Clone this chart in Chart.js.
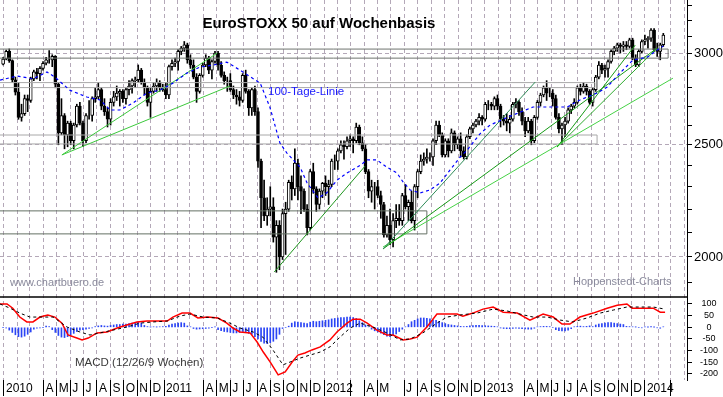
<!DOCTYPE html>
<html>
<head>
<meta charset="utf-8">
<title>EuroSTOXX 50 auf Wochenbasis</title>
<script src="https://cdn.jsdelivr.net/npm/chart.js@4.4.1/dist/chart.umd.min.js"></script>
<style>
  html, body { margin: 0; padding: 0; background: #fff; overflow: hidden; }
  canvas { display: block; }
</style>
</head>
<body>
<canvas id="myChart" width="723" height="397"></canvas>
<script>
// Month labels of the time axis, first entry = Jan 2010 ('|' = separator without text)
const monthLabels = [
  '2010', '', '', 'A', 'M', 'J', 'J', 'A', 'S', 'O', 'N', 'D',
  '2011', '', '', 'A', 'M', 'J', 'J', 'A', 'S', 'O', 'N', 'D',
  '2012', '', '|', 'A', 'M', '', 'J', 'A', 'S', 'O', 'N', 'D',
  '2013', '', '', 'A', 'M', 'J', 'J', 'A', 'S', 'O', 'N', 'D',
  '2014', '', '|', ''
];

// Weekly candles, first week = week of 28 Dec 2009
const wkOpen = [
  2935, 2965, 3010, 2955, 2845, 2776, 2640, 2660, 2740, 2730,
  2850, 2890, 2880, 2910, 2940, 2960, 2960, 2980, 2820, 2560,
  2650, 2550, 2610, 2520, 2600, 2700, 2610, 2520, 2650, 2650,
  2740, 2750, 2790, 2700, 2670, 2630, 2720, 2750, 2770, 2780,
  2740, 2790, 2810, 2840, 2845, 2900, 2830, 2800, 2720, 2780,
  2810, 2830, 2800, 2790, 2760, 2920, 2940, 2950, 3010, 3030,
  3050, 2960, 2930, 2860, 2780, 2870, 2930, 2970, 2900, 2950,
  3000, 2930, 2870, 2840, 2840, 2790, 2760, 2750, 2730, 2870,
  2780, 2690, 2790, 2670, 2420, 2250, 2170, 2200, 2210, 2080,
  2130, 2000, 2180, 2200, 2320, 2290, 2410, 2300, 2280, 2200,
  2120, 2370, 2290, 2220, 2280, 2316, 2300, 2310, 2420, 2420,
  2470, 2500, 2490, 2520, 2530, 2520, 2590, 2510, 2480, 2370,
  2280, 2300, 2300, 2260, 2220, 2090, 2130, 2070, 2150, 2160,
  2150, 2260, 2210, 2230, 2150, 2300, 2370, 2420, 2430, 2440,
  2440, 2520, 2600, 2550, 2450, 2520, 2470, 2560, 2500, 2530,
  2470, 2440, 2540, 2580, 2600, 2620, 2640, 2630, 2710, 2710,
  2700, 2740, 2700, 2630, 2620, 2610, 2630, 2710, 2720, 2670,
  2620, 2570, 2620, 2520, 2640, 2720, 2760, 2800, 2770, 2770,
  2740, 2640, 2580, 2600, 2620, 2680, 2700, 2720, 2800, 2780,
  2810, 2780, 2720, 2790, 2860, 2930, 2900, 2910, 2950, 3010,
  3030, 3050, 3040, 3050, 3040, 3080, 2970, 2930, 3010, 3070,
  3080, 3090, 3140, 3020, 3010, 3050
];
const wkHigh = [
  2975, 3018, 3025, 2960, 2860, 2830, 2710, 2760, 2760, 2860,
  2900, 2910, 2920, 2950, 2975, 3015, 2990, 2985, 2830, 2740,
  2660, 2620, 2620, 2610, 2710, 2720, 2620, 2660, 2730, 2750,
  2800, 2830, 2800, 2740, 2690, 2740, 2780, 2810, 2790, 2790,
  2800, 2840, 2850, 2860, 2930, 2910, 2850, 2810, 2800, 2830,
  2850, 2840, 2820, 2830, 2930, 2960, 2970, 3020, 3040, 3070,
  3060, 2990, 2960, 2880, 2880, 2940, 2990, 2980, 2960, 3010,
  3010, 2950, 2890, 2860, 2880, 2810, 2790, 2780, 2880, 2900,
  2790, 2800, 2810, 2690, 2430, 2330, 2250, 2300, 2250, 2150,
  2150, 2200, 2230, 2330, 2350, 2480, 2430, 2350, 2290, 2220,
  2380, 2410, 2300, 2290, 2320, 2350, 2330, 2430, 2450, 2480,
  2520, 2520, 2540, 2550, 2540, 2610, 2600, 2540, 2500, 2380,
  2330, 2320, 2330, 2280, 2230, 2170, 2200, 2180, 2220, 2220,
  2270, 2310, 2240, 2280, 2310, 2380, 2450, 2460, 2480, 2460,
  2530, 2620, 2620, 2560, 2530, 2530, 2580, 2570, 2540, 2560,
  2490, 2550, 2590, 2610, 2630, 2660, 2650, 2720, 2730, 2720,
  2750, 2760, 2710, 2650, 2660, 2650, 2720, 2740, 2730, 2690,
  2640, 2640, 2630, 2650, 2730, 2770, 2810, 2840, 2800, 2790,
  2760, 2660, 2610, 2640, 2690, 2710, 2740, 2810, 2820, 2830,
  2820, 2790, 2800, 2870, 2950, 2940, 2930, 2960, 3020, 3040,
  3060, 3060, 3070, 3070, 3090, 3090, 2990, 3020, 3080, 3110,
  3100, 3150, 3150, 3060, 3060, 3120
];
const wkLow = [
  2930, 2960, 2945, 2830, 2760, 2630, 2620, 2650, 2670, 2720,
  2840, 2850, 2840, 2900, 2930, 2940, 2920, 2800, 2500, 2550,
  2480, 2490, 2500, 2480, 2590, 2600, 2490, 2510, 2630, 2620,
  2720, 2740, 2680, 2650, 2590, 2600, 2700, 2730, 2700, 2720,
  2710, 2760, 2770, 2800, 2830, 2820, 2760, 2700, 2640, 2770,
  2780, 2780, 2780, 2740, 2740, 2900, 2920, 2900, 2990, 3010,
  2940, 2910, 2850, 2720, 2770, 2860, 2920, 2880, 2850, 2940,
  2900, 2860, 2820, 2780, 2780, 2740, 2710, 2700, 2720, 2770,
  2650, 2650, 2650, 2390, 2120, 2150, 2130, 2170, 2060, 1940,
  1950, 1990, 2010, 2190, 2240, 2260, 2240, 2180, 2190, 2090,
  2110, 2270, 2190, 2200, 2250, 2260, 2220, 2300, 2380, 2380,
  2460, 2430, 2480, 2490, 2460, 2510, 2500, 2470, 2360, 2250,
  2230, 2200, 2250, 2160, 2080, 2080, 2050, 2040, 2120, 2130,
  2130, 2200, 2150, 2140, 2110, 2250, 2360, 2400, 2410, 2420,
  2400, 2500, 2540, 2440, 2440, 2440, 2460, 2470, 2480, 2440,
  2430, 2430, 2530, 2560, 2590, 2600, 2600, 2620, 2680, 2680,
  2680, 2680, 2590, 2600, 2570, 2560, 2620, 2690, 2650, 2600,
  2540, 2560, 2500, 2510, 2630, 2700, 2750, 2730, 2750, 2700,
  2630, 2560, 2500, 2540, 2610, 2660, 2690, 2710, 2760, 2770,
  2760, 2710, 2700, 2780, 2850, 2880, 2860, 2860, 2940, 2990,
  3010, 3000, 3010, 3020, 3030, 2960, 2920, 2920, 3000, 3050,
  3030, 3070, 3010, 2980, 2960, 3040
];
const wkClose = [
  2965, 3010, 2955, 2845, 2776, 2640, 2660, 2740, 2730, 2850,
  2890, 2880, 2910, 2940, 2960, 2960, 2980, 2820, 2560, 2650,
  2550, 2610, 2520, 2600, 2700, 2610, 2520, 2650, 2650, 2740,
  2750, 2790, 2700, 2670, 2630, 2720, 2750, 2770, 2780, 2740,
  2790, 2810, 2840, 2845, 2900, 2830, 2800, 2720, 2780, 2810,
  2830, 2800, 2790, 2760, 2920, 2940, 2950, 3010, 3030, 3050,
  2960, 2930, 2860, 2780, 2870, 2930, 2970, 2900, 2950, 3000,
  2930, 2870, 2840, 2840, 2790, 2760, 2750, 2730, 2870, 2780,
  2690, 2790, 2670, 2420, 2250, 2170, 2200, 2210, 2080, 2130,
  2000, 2180, 2200, 2320, 2290, 2410, 2300, 2280, 2200, 2120,
  2370, 2290, 2220, 2280, 2316, 2300, 2310, 2420, 2420, 2470,
  2500, 2490, 2520, 2530, 2520, 2590, 2510, 2480, 2370, 2280,
  2300, 2300, 2260, 2220, 2090, 2130, 2070, 2150, 2160, 2150,
  2260, 2210, 2230, 2150, 2300, 2370, 2420, 2430, 2440, 2440,
  2520, 2600, 2550, 2450, 2520, 2470, 2560, 2500, 2530, 2470,
  2440, 2540, 2580, 2600, 2620, 2640, 2630, 2710, 2710, 2700,
  2740, 2700, 2630, 2620, 2610, 2630, 2710, 2720, 2670, 2620,
  2570, 2620, 2520, 2640, 2720, 2760, 2800, 2770, 2770, 2740,
  2640, 2580, 2600, 2620, 2680, 2700, 2720, 2800, 2780, 2810,
  2780, 2720, 2790, 2860, 2930, 2900, 2910, 2950, 3010, 3030,
  3050, 3040, 3050, 3040, 3080, 2970, 2930, 3010, 3070, 3080,
  3090, 3140, 3020, 3010, 3050, 3110
];

// MACD histogram, one bar per week
const macdHist = [
  0, -3, -12, -22, -32, -40, -42, -38, -30, -20,
  -8, -4, -3, 0, 5, 3, -10, -22, -35, -42,
  -44, -40, -34, -26, -18, -12, -10, -8, -5, -3,
  3, 6, 8, 6, 5, 8, 10, 12, 12, 14,
  14, 16, 18, 20, 22, 18, 8, 3, 1, 2,
  1, 2, 3, 4, 10, 14, 16, 18, 20, 18,
  6, 2, -5, -8, -7, -6, -5, -4, 0, 2,
  -10, -14, -18, -20, -22, -24, -24, -22, -18, -22,
  -26, -30, -40, -50, -60, -68, -70, -66, -60, -50,
  -30, -5, 0, 5, 18, 24, 22, 20, 18, 16,
  22, 26, 24, 26, 28, 30, 32, 36, 38, 40,
  42, 42, 44, 44, 42, 38, 28, 20, 10, 2,
  -8, -15, -20, -25, -32, -38, -40, -36, -28, -18,
  -8, 2, 12, 24, 30, 36, 40, 40, 38, 36,
  32, 30, 26, 20, 16, 12, 10, 8, 6, 4,
  3, 4, 6, 7, 8, 8, 7, 7, 6, 5,
  4, 2, -3, -5, -6, -6, -5, -4, -5, -6,
  -7, -8, -8, -4, 2, 3, 4, 4, 3, 0,
  -10, -14, -16, -15, -12, -6, 2, 4, 5, 3,
  4, 6, 3, 10, 14, 16, 18, 20, 20, 18,
  16, 14, 12, 4, 3, 2, 1, 0, -2, 2,
  1, 3, 1, -2, -4, 2
];

// MACD line and signal line (x = days since 28 Dec 2009)
const macdDay = [-5, 11, 24, 40, 56, 70, 86, 104, 120, 136, 150, 170, 182, 196, 216, 239, 262, 284, 307, 330,
  353, 376, 389, 410, 428, 446, 469, 492, 512, 526, 542, 565, 581, 595, 611, 629, 645, 661, 674, 690,
  706, 725, 747, 763, 786, 800, 816, 832, 854, 877, 891, 914, 930, 946, 968, 991, 1014, 1037, 1050, 1073,
  1096, 1119, 1142, 1174, 1203, 1233, 1256, 1276, 1294, 1317, 1347, 1379, 1402, 1424, 1436, 1461, 1484, 1500, 1511];
const macdVal = [100, 100, 82, 44, 23, 23, 44, 53, 44, 18, -33, -46, -54, -46, -24, -20, -3, 10, 23, 27,
  27, 27, 44, 61, 61, 40, 44, 40, 18, -3, -20, -24, -63, -106, -149, -204, -191, -149, -119, -110,
  -97, -84, -54, -20, 18, 35, 35, 18, -12, -33, -33, -54, -50, -42, 1, 57, 57, 57, 48, 61,
  78, 87, 65, 61, 31, 57, 44, 14, 14, 44, 61, 82, 95, 100, 82, 82, 82, 65, 65];
const signalDay = [-5, 18, 40, 63, 93, 116, 148, 177, 200, 223, 252, 284, 314, 344, 376, 405, 428, 458, 490, 519,
  542, 572, 594, 617, 640, 656, 679, 702, 725, 747, 770, 793, 816, 845, 877, 907, 930, 959, 991, 1014,
  1044, 1082, 1119, 1151, 1180, 1210, 1242, 1272, 1301, 1333, 1363, 1393, 1424, 1454, 1484, 1511];
const signalVal = [100, 82, 61, 44, 44, 44, 1, -20, -33, -24, -12, 1, 18, 23, 27, 48, 57, 44, 40, 18,
  -3, -20, -42, -97, -161, -149, -132, -119, -106, -84, -42, -3, 18, 1, -24, -54, -50, -24, 18, 44,
  53, 61, 78, 70, 57, 44, 44, 31, 23, 40, 61, 74, 87, 87, 87, 78];

// 100-Tage-Linie
const maDay = [-5, 34, 70, 102, 120, 154, 193, 223, 246, 268, 298, 330, 360, 389, 421, 451, 480, 512, 542, 588,
  610, 633, 649, 679, 695, 720, 740, 763, 786, 816, 832, 854, 877, 900, 914, 930, 953, 975, 998, 1021,
  1044, 1060, 1089, 1112, 1164, 1210, 1256, 1288, 1317, 1356, 1379, 1408, 1438, 1470, 1493, 1507];
const maVal = [2843, 2866, 2850, 2889, 2860, 2787, 2749, 2733, 2679, 2679, 2716, 2771, 2787, 2826, 2883, 2918, 2929, 2947, 2900, 2826,
  2695, 2509, 2459, 2391, 2317, 2249, 2272, 2330, 2363, 2400, 2426, 2426, 2391, 2363, 2321, 2285, 2272, 2285, 2317, 2378,
  2440, 2474, 2555, 2600, 2652, 2695, 2695, 2695, 2733, 2771, 2804, 2883, 2959, 2976, 3018, 3042];

// Trend lines (start / end)
const trendFromDay = [136, 136, 620, 868, 868, 868, 1265, 1265];
const trendFromVal = [2450, 2450, 1941, 2032, 2032, 2040, 2489, 2489];
const trendToDay = [490, 519, 827, 1215, 1493, 1529, 1443, 1493];
const trendToVal = [3000, 2810, 2396, 2832, 3030, 2854, 3048, 3030];

// Support / resistance zones
const zoneLow = [2970, 2801, 2504, 2094];
const zoneHigh = [3024, 2829, 2549, 2192];
const zoneEndDay = [1518, 1351, 1356, 968];

// Axis ticks
const priceTicks = [1900, 2000, 2100, 2200, 2300, 2400, 2500, 2600, 2700, 2800, 2900, 3000, 3100, 3200, 3300];
const macdTicks = [-200, -150, -100, -50, 0, 50, 100];

// styles
const trendColors = ['#3cc83c', '#3cc83c', '#1e961e', '#2e8b57', '#169a16', '#46d246', '#169a16', '#2eaa2e'];
const zoneColors = ['#6e746e', '#a8a8a8', '#a8a8a8', '#647064'];
const gridColor = '#b4a8b8';
const FONT = '"Liberation Sans", Arial, sans-serif';

const DAY0 = Date.UTC(2009, 11, 28);
const monthDays = monthLabels.map((_, i) => (Date.UTC(2010, i, 1) - DAY0) / 86400000);
const weekX = i => 7 * i + 2;

const datasets = [];

// 100-day line
datasets.push({
    type: 'line', yAxisID: 'y', order: 0,
    data: maDay.map((d, i) => ({ x: d, y: maVal[i] })),
    borderColor: '#0000ff', borderWidth: 1.2, borderDash: [3, 3], pointRadius: 0
});

// trend lines
trendFromDay.forEach((d, i) => {
    datasets.push({
        type: 'line', yAxisID: 'y', order: 0,
        data: [{ x: d, y: trendFromVal[i] }, { x: trendToDay[i], y: trendToVal[i] }],
        borderColor: trendColors[i], borderWidth: 1, pointRadius: 0
    });
});

// zones (open on the left, the chart clips them)
zoneLow.forEach((lo, i) => {
    datasets.push({
        type: 'line', yAxisID: 'y', order: 1,
        data: [
            { x: -40, y: lo }, { x: zoneEndDay[i], y: lo },
            { x: zoneEndDay[i], y: zoneHigh[i] }, { x: -40, y: zoneHigh[i] }
        ],
        borderColor: zoneColors[i], borderWidth: 1, pointRadius: 0
    });
});

// candle bodies
datasets.push({
    type: 'bar', yAxisID: 'y', order: 2, grouped: false,
    data: wkOpen.map((o, i) => ({ x: weekX(i), y: [o, wkClose[i]] })),
    backgroundColor: wkOpen.map((o, i) => wkClose[i] >= o ? '#ffffff' : '#000000'),
    borderColor: '#000000', borderWidth: 1, borderSkipped: false, barThickness: 3
});

// wicks
datasets.push({
    type: 'bar', yAxisID: 'y', order: 3, grouped: false,
    data: wkLow.map((l, i) => ({ x: weekX(i), y: [l, wkHigh[i]] })),
    backgroundColor: '#000000', borderWidth: 0, barThickness: 1
});

// MACD histogram
datasets.push({
    type: 'bar', yAxisID: 'y2', order: 4, grouped: false,
    data: macdHist.map((v, i) => ({ x: weekX(i), y: v })),
    backgroundColor: '#2a44f5', borderWidth: 0, barThickness: 1
});

// signal line
datasets.push({
    type: 'line', yAxisID: 'y2', order: 0,
    data: signalDay.map((d, i) => ({ x: d, y: signalVal[i] })),
    borderColor: '#000000', borderWidth: 1, borderDash: [3, 3], pointRadius: 0
});

// MACD line
datasets.push({
    type: 'line', yAxisID: 'y2', order: 0,
    data: macdDay.map((d, i) => ({ x: d, y: macdVal[i] })),
    borderColor: '#ff0000', borderWidth: 1.5, pointRadius: 0
});

// texts drawn on top of the chart
const notes = [
    { text: 'EuroSTOXX 50 auf Wochenbasis', x: 319, y: 24, font: 'bold 15px ' + FONT, color: '#000000', align: 'center' },
    { text: '100-Tage-Linie', x: 268, y: 92, font: '11.5px ' + FONT, color: '#1a1aff', align: 'left' },
    { text: 'www.chartbuero.de', x: 10, y: 283, font: '11px ' + FONT, color: '#8a8a9c', align: 'left' },
    { text: 'Hoppenstedt-Charts', x: 573, y: 282, font: '11px ' + FONT, color: '#8a8a9c', align: 'left' },
    { text: 'MACD (12/26/9 Wochen)', x: 75, y: 363, font: '11.5px ' + FONT, color: '#3a3a3a', align: 'left' }
];

const overlay = {
    id: 'overlay',
    afterDraw(chart) {
        const ctx = chart.ctx;
        const yScale = chart.scales.y;
        ctx.save();
        // divider between price and MACD panel
        ctx.strokeStyle = '#000';
        ctx.lineWidth = 1.5;
        ctx.beginPath();
        ctx.moveTo(0, yScale.bottom);
        ctx.lineTo(yScale.left, yScale.bottom);
        ctx.stroke();
        ctx.textBaseline = 'middle';
        notes.forEach(n => {
            ctx.font = n.font;
            ctx.fillStyle = n.color;
            ctx.textAlign = n.align;
            ctx.fillText(n.text, n.x, n.y);
        });
        ctx.restore();
    }
};

// no extra room around the plot for overflowing tick labels
function noPadding(s) {
    s.paddingTop = 0;
    s.paddingBottom = 0;
    s.paddingLeft = 0;
    s.paddingRight = 0;
}

new Chart(document.getElementById('myChart'), {
    type: 'bar',
    data: { datasets: datasets },
    options: {
        responsive: false,
        animation: false,
        events: [],
        layout: { padding: 0 },
        plugins: { legend: { display: false }, tooltip: { enabled: false } },
        scales: {
            x: {
                type: 'linear', position: 'bottom', min: -5.1, max: 1561, offset: false,
                afterBuildTicks: s => { s.ticks = monthDays.map(v => ({ value: v })); },
                afterFit: s => { noPadding(s); s.height = 17; },
                grid: {
                    offset: false, color: gridColor, lineWidth: 1, drawTicks: true, tickLength: 16, tickWidth: 1,
                    tickColor: c => monthLabels[c.index] ? '#000000' : 'rgba(0,0,0,0)'
                },
                border: { display: false, dash: [4, 3] },
                ticks: {
                    autoSkip: false, maxRotation: 0, minRotation: 0, align: 'start', labelOffset: 2, padding: -15,
                    color: '#000000',
                    font: { family: FONT, size: 12 },
                    callback: (v, i) => monthLabels[i] === '|' ? '' : monthLabels[i]
                }
            },
            y: {
                type: 'logarithmic', position: 'right', stack: 'panes', stackWeight: 297,
                min: 1847, max: 3334, beginAtZero: false,
                afterBuildTicks: s => { s.ticks = priceTicks.map(v => ({ value: v })); },
                afterFit: s => { noPadding(s); s.width = 36; },
                grid: {
                    color: c => (c.tick && c.tick.value % 500 === 0) ? gridColor : 'rgba(0,0,0,0)',
                    drawTicks: true, tickLength: 5, tickColor: '#000000', tickWidth: 1
                },
                border: { display: true, color: '#000000', width: 1, dash: [4, 3] },
                ticks: {
                    autoSkip: false, crossAlign: 'center', padding: 2, color: '#000000',
                    font: { family: FONT, size: 13 },
                    callback: v => v % 500 === 0 ? String(v) : ''
                }
            },
            y2: {
                type: 'linear', position: 'right', stack: 'panes', stackWeight: 83,
                min: -226, max: 130, beginAtZero: false,
                afterBuildTicks: s => { s.ticks = macdTicks.map(v => ({ value: v })); },
                afterFit: s => { noPadding(s); s.width = 36; },
                grid: { color: 'rgba(0,0,0,0)', drawTicks: true, tickLength: 5, tickColor: '#000000' },
                border: { display: true, color: '#000000', width: 1 },
                ticks: {
                    autoSkip: false, crossAlign: 'center', padding: 8, color: '#000000',
                    font: { family: FONT, size: 9 }
                }
            }
        }
    },
    plugins: [overlay]
});
</script>
</body>
</html>
